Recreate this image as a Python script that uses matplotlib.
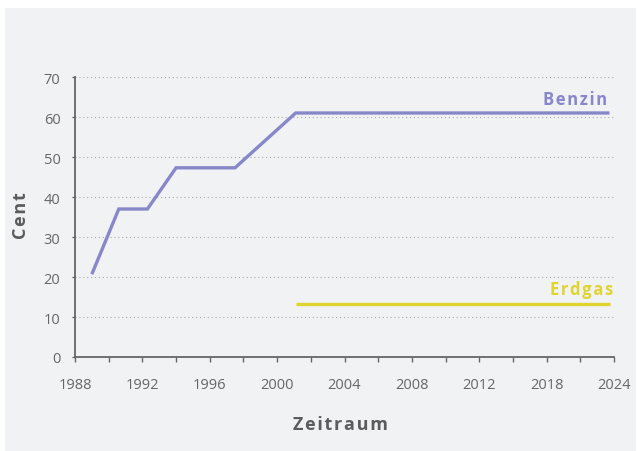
import numpy as np
import matplotlib
matplotlib.use("Agg")
import matplotlib.pyplot as plt
from matplotlib.patches import Rectangle

# Axis labels (evenly spaced on the axis, uneven in years)
tick_years = [1988, 1992, 1996, 2000, 2004, 2008, 2012, 2018, 2024]

# Tax per litre in cent
benzin_years = [1989, 1990.6, 1992.3, 1994, 1997.5, 2001.1, 2023.6]
benzin_cent = [20.7, 37, 37, 47.3, 47.3, 61, 61]
erdgas_years = [2001.1, 2023.6]
erdgas_cent = [13.2, 13.2]

benzin_color = "#8787c9"
erdgas_color = "#dfd430"
text_gray = "#666666"
bg_gray = "#f1f2f4"

plt.rcParams["font.family"] = ["Open Sans", "DejaVu Sans"]

tick_pos = np.arange(len(tick_years)) * 2.0


def fwd(x):
    return np.interp(x, tick_years, tick_pos)


def inv(p):
    return np.interp(p, tick_pos, tick_years)


def spaced(s):
    # widen the tracking of headline text with hair spaces
    return "\u200a".join(s)


fig = plt.figure(figsize=(6.37, 4.52), dpi=100, facecolor="white")
W, H = 637, 452
fig.patches.append(Rectangle((5 / W, 0), (636 - 5) / W, (452 - 9) / H,
                             transform=fig.transFigure, facecolor=bg_gray,
                             edgecolor="none", zorder=-10))

ax = fig.add_axes([75 / W, (452 - 358) / H, (614 - 75) / W, (358 - 78) / H])
ax.set_zorder(1)
ax.set_facecolor("none")
ax.set_xscale("function", functions=(fwd, inv))
ax.set_xlim(1988, 2024)
ax.set_ylim(0, 70)

ax.plot(benzin_years, benzin_cent, color=benzin_color, lw=2.4,
        solid_capstyle="butt", solid_joinstyle="miter", zorder=3)
ax.plot(erdgas_years, erdgas_cent, color=erdgas_color, lw=2.4,
        solid_capstyle="butt", zorder=3)

ax.text(benzin_years[-1] - 0.2, 64.6, spaced("Benzin"), color=benzin_color,
        ha="right", va="center", fontsize=12, fontweight="bold")
ax.text(erdgas_years[-1] + 0.3, 17.0, spaced("Erdgas"), color=erdgas_color,
        ha="right", va="center", fontsize=12, fontweight="bold")

# Ticks: labelled every other position
ax.set_xticks(tick_years)
ax.set_xticklabels([str(y) for y in tick_years])
ax.set_xticks(inv(np.arange(1, 16, 2)), minor=True)
ax.set_yticks(np.arange(0, 71, 10))

ax.tick_params(axis="x", which="both", direction="out", length=3.5, width=1,
               color=text_gray, pad=11, labelsize=10.5, labelcolor=text_gray)
ax.tick_params(axis="y", direction="out", length=2.5, width=1,
               color=text_gray, pad=8, labelsize=10.5, labelcolor=text_gray)

ax.grid(axis="y", linestyle=(0, (1, 2.5)), color="#a8a8a8", lw=0.8)
ax.set_axisbelow(True)

for side in ("top", "right"):
    ax.spines[side].set_visible(False)
for side in ("left", "bottom"):
    ax.spines[side].set_color(text_gray)
    ax.spines[side].set_linewidth(1.3)

fig.text(340 / W, 1 - 425 / H, spaced("Zeitraum"), ha="center", va="center",
         fontsize=13, fontweight="bold", color="#5c5c5c")
fig.text(21 / W, 1 - 216 / H, spaced("Cent"), ha="center", va="center",
         rotation=90, fontsize=13, fontweight="bold", color="#5c5c5c")

fig.savefig("out.png", dpi=100, facecolor="white")
